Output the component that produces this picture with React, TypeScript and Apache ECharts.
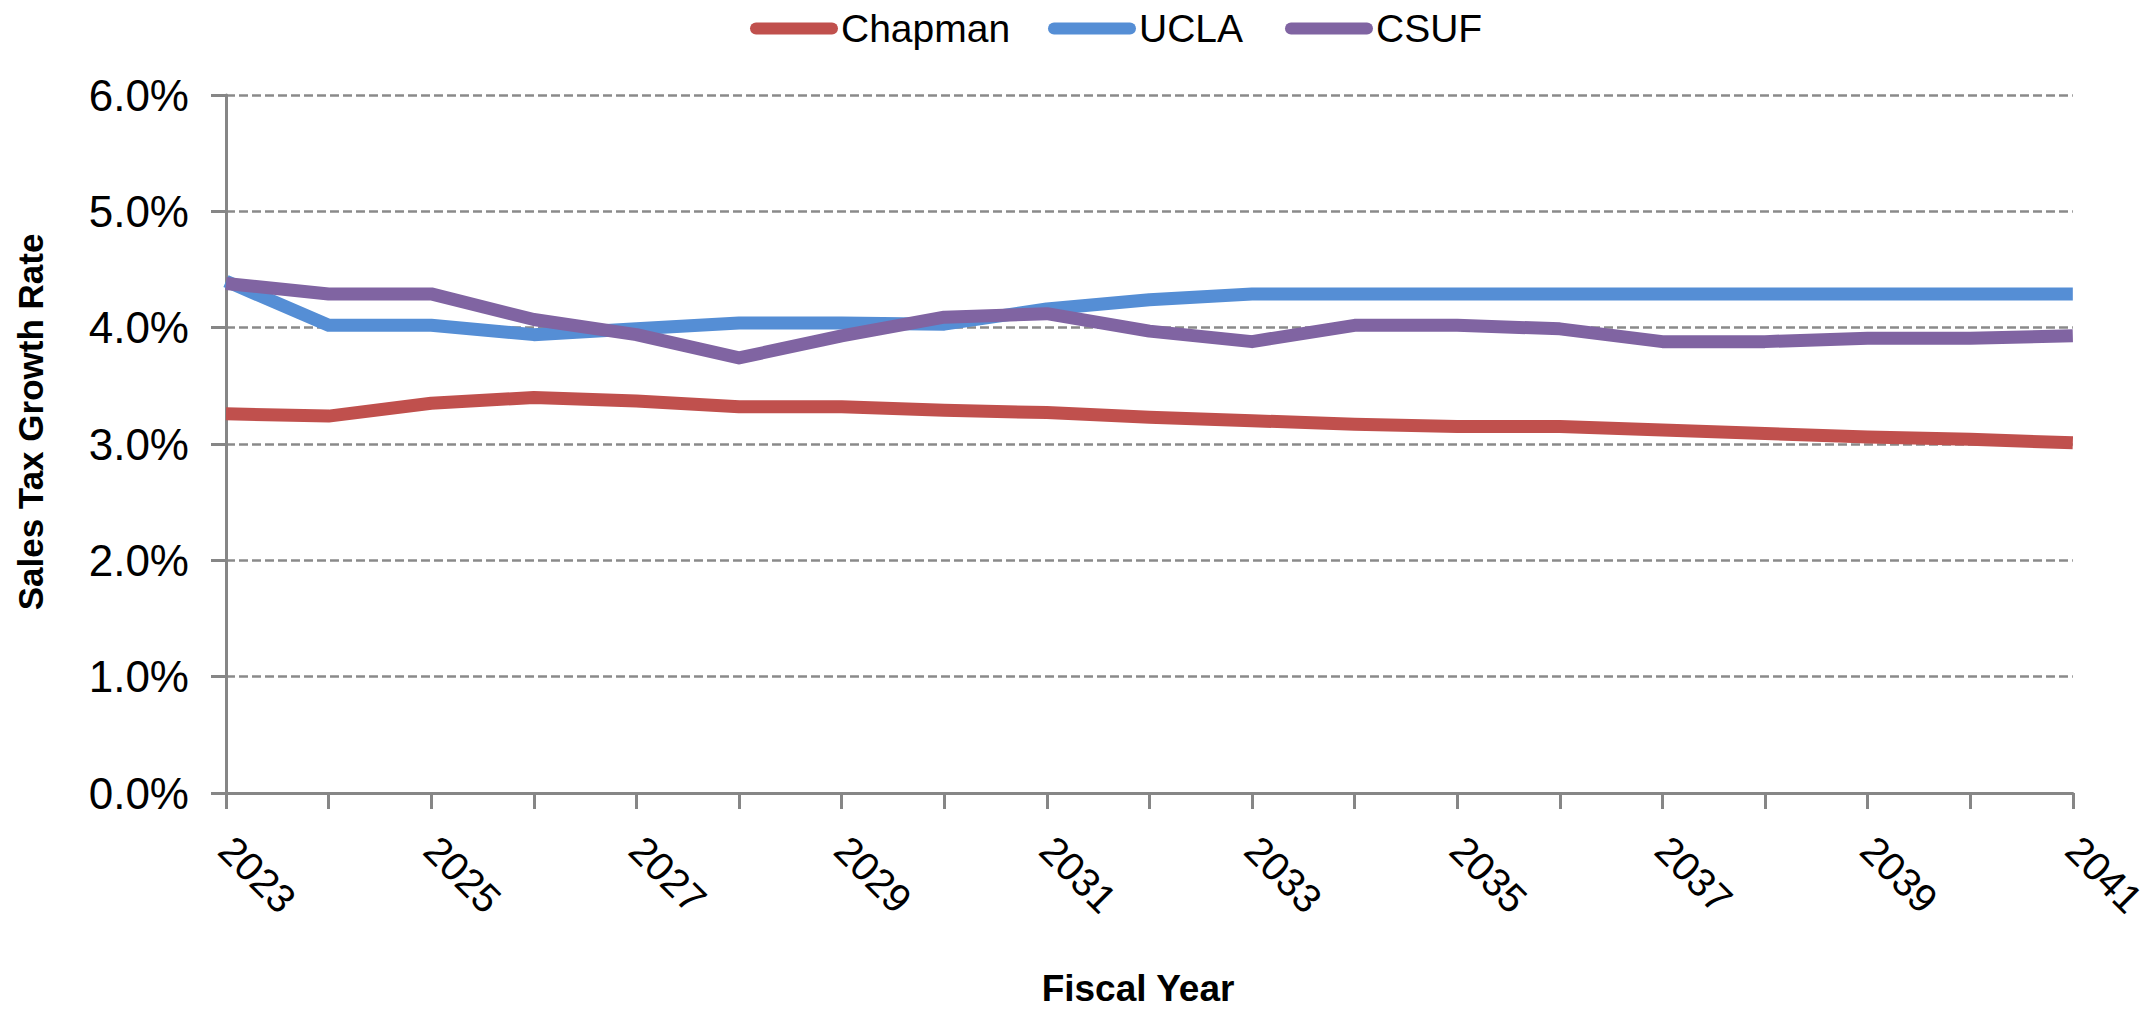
import React, { useEffect, useRef } from "react";
import * as echarts from "echarts";

const years = ["2023","2024","2025","2026","2027","2028","2029","2030","2031","2032","2033","2034","2035","2036","2037","2038","2039","2040","2041"];
const chapman = [3.26, 3.24, 3.35, 3.40, 3.37, 3.32, 3.32, 3.29, 3.27, 3.23, 3.20, 3.17, 3.15, 3.15, 3.12, 3.09, 3.06, 3.04, 3.01];
const ucla = [4.40, 4.02, 4.02, 3.94, 3.99, 4.04, 4.04, 4.03, 4.16, 4.24, 4.29, 4.29, 4.29, 4.29, 4.29, 4.29, 4.29, 4.29, 4.29];
const csuf = [4.38, 4.29, 4.29, 4.07, 3.94, 3.74, 3.93, 4.09, 4.12, 3.97, 3.88, 4.02, 4.02, 3.99, 3.88, 3.88, 3.91, 3.91, 3.93];
const seriesNames = ["Chapman", "UCLA", "CSUF"];
const colors = ["#C0504D", "#558ED5", "#8064A2"];
const xTitle = "Fiscal Year";
const yTitle = "Sales Tax Growth Rate";

const FONT = "'Liberation Sans', Arial, sans-serif";
const legendLefts = [745, 1043, 1280];

export default function App() {
  const ref = useRef<HTMLDivElement>(null);
  useEffect(() => {
    document.body.style.margin = "0";
    document.body.style.overflow = "hidden";
    const chart = echarts.init(ref.current!, undefined, { renderer: "svg" });
    const data = [chapman, ucla, csuf];
    chart.setOption({
      animation: false,
      backgroundColor: "#ffffff",
      textStyle: { fontFamily: FONT },
      legend: seriesNames.map((name, i) => ({
        top: 4,
        left: legendLefts[i],
        itemWidth: 88,
        itemHeight: 12,
        itemGap: 0,
        icon: "path://M6,0 H82 A6,6 0 0 1 82,12 H6 A6,6 0 0 1 6,0 Z",
        textStyle: { fontSize: 39, color: "#000", fontFamily: FONT, padding: [0, 0, 0, -2] },
        data: [name],
      })),
      grid: { left: 226, right: 77, top: 95, bottom: 221, containLabel: false },
      xAxis: {
        type: "category",
        data: years,
        boundaryGap: false,
        axisLine: { lineStyle: { color: "#868686", width: 3 } },
        axisTick: { show: true, length: 16, interval: 0, lineStyle: { color: "#868686", width: 3 } },
        axisLabel: { interval: 1, rotate: -45, margin: 50, fontSize: 40, color: "#000", fontFamily: FONT },
      },
      yAxis: {
        type: "value",
        min: 0,
        max: 6,
        interval: 1,
        axisLine: { show: true, lineStyle: { color: "#868686", width: 3 } },
        axisTick: { show: true, length: 15, lineStyle: { color: "#868686", width: 3 } },
        axisLabel: { margin: 37, fontSize: 44, color: "#000", fontFamily: FONT, formatter: (v: number) => v.toFixed(1) + "%" },
        splitLine: { show: true, lineStyle: { color: "#8a8a8a", width: 2.5, type: [9, 4] } },
      },
      graphic: [
        {
          type: "text",
          x: 30,
          y: 422,
          rotation: Math.PI / 2,
          style: { text: yTitle, fontSize: 35, fontWeight: "bold", fontFamily: FONT, fill: "#000", align: "center", verticalAlign: "middle" },
        },
        {
          type: "text",
          x: 1138,
          y: 988,
          style: { text: xTitle, fontSize: 37, fontWeight: "bold", fontFamily: FONT, fill: "#000", align: "center", verticalAlign: "middle" },
        },
      ],
      series: seriesNames.map((name, i) => ({
        name,
        type: "line",
        data: data[i],
        showSymbol: false,
        symbol: "none",
        color: colors[i],
        lineStyle: { color: colors[i], width: 13, cap: "butt", join: "round" },
        z: 2 + i,
      })),
    });
    return () => chart.dispose();
  }, []);
  return <div ref={ref} style={{ width: 2152, height: 1014 }} />;
}
